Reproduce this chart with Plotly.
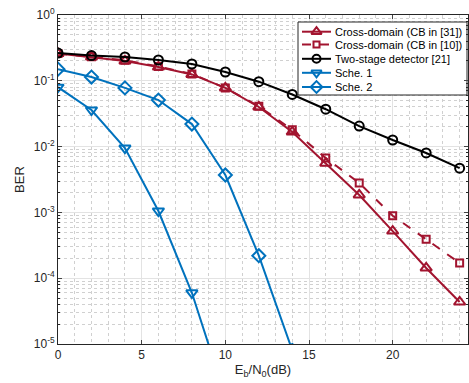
import plotly.graph_objects as go

snr = [0, 2, 4, 6, 8, 10, 12, 14, 16, 18, 20, 22, 24]

cross31 = [0.26, 0.23, 0.20, 0.162, 0.125, 0.078, 0.040, 0.0167, 0.0056, 0.00184, 0.00052, 0.000143, 0.0000435]
cross10 = [0.26, 0.232, 0.205, 0.165, 0.127, 0.078, 0.041, 0.018, 0.0067, 0.0028, 0.00089, 0.00039, 0.00017]
twostage = [0.264, 0.242, 0.23, 0.207, 0.18, 0.136, 0.097, 0.062, 0.037, 0.0205, 0.0126, 0.0080, 0.0047]
sche1_x = [0, 2, 4, 6, 8, 10]
sche1 = [0.08, 0.036, 0.0095, 0.00105, 0.00006, 0.0000016]
sche2_x = [0, 2, 4, 6, 8, 10, 12, 14]
sche2 = [0.15, 0.114, 0.078, 0.051, 0.022, 0.0037, 0.00022, 0.000008]

names = ["Cross-domain (CB in [31])", "Cross-domain (CB in [10])",
         "Two-stage detector [21]", "Sche. 1", "Sche. 2"]

RED = "#A2142F"
BLUE = "#0072BD"
BLACK = "#000000"

styles = [
    dict(color=RED, dash="solid", symbol="triangle-up-open", size=10),
    dict(color=RED, dash="dash", symbol="square-open", size=7),
    dict(color=BLACK, dash="solid", symbol="circle-open", size=9),
    dict(color=BLUE, dash="solid", symbol="triangle-down-open", size=10),
    dict(color=BLUE, dash="solid", symbol="diamond-open", size=10),
]
series = [(snr, cross31), (snr, cross10), (snr, twostage), (sche1_x, sche1), (sche2_x, sche2)]

fig = go.Figure()
for (xs, ys), st, nm in zip(series, styles, names):
    fig.add_trace(go.Scatter(
        x=xs, y=ys, name=nm, mode="lines+markers", showlegend=False,
        line=dict(color=st["color"], width=2, dash=st["dash"]),
        marker=dict(symbol=st["symbol"], size=st["size"], color=st["color"],
                    line=dict(width=2, color=st["color"]))))

# ---- compact legend drawn on a helper overlay axis (0..1 over the plot area) ----
L, R, T, B = 58, 468, 15, 344
def px_x(p):
    return (p - L) / (R - L)
def px_y(p):
    return (B - p) / (B - T)

box_l, box_r, box_t, box_b = 298, 467, 22, 95
row_y = [31.7, 44.5, 58.8, 72.8, 87.0]
fig.add_trace(go.Scatter(
    x=[px_x(box_l), px_x(box_r), px_x(box_r), px_x(box_l), px_x(box_l)],
    y=[px_y(box_t), px_y(box_t), px_y(box_b), px_y(box_b), px_y(box_t)],
    mode="lines", fill="toself", fillcolor="white",
    line=dict(color="#262626", width=1), xaxis="x2", yaxis="y2",
    showlegend=False, hoverinfo="skip"))
for st, nm, ry in zip(styles, names, row_y):
    fig.add_trace(go.Scatter(
        x=[px_x(302), px_x(331)], y=[px_y(ry)] * 2, mode="lines",
        line=dict(color=st["color"], width=2, dash=st["dash"]),
        xaxis="x2", yaxis="y2", showlegend=False, hoverinfo="skip"))
    fig.add_trace(go.Scatter(
        x=[px_x(316.5)], y=[px_y(ry)], mode="markers",
        marker=dict(symbol=st["symbol"], size=st["size"] - 1, color=st["color"],
                    line=dict(width=2, color=st["color"])),
        xaxis="x2", yaxis="y2", showlegend=False, hoverinfo="skip"))
    fig.add_annotation(x=px_x(333), y=px_y(ry), xref="x2", yref="y2", text=nm,
                       showarrow=False, xanchor="left", yanchor="middle",
                       font=dict(size=11, color="#000000"))

AX = "#262626"
GRID = "#E3E3E3"

yvals = [1e-5, 1e-4, 1e-3, 1e-2, 1e-1, 1]
ytext = ["10<sup>-5</sup>", "10<sup>-4</sup>", "10<sup>-3</sup>", "10<sup>-2</sup>", "10<sup>-1</sup>", "10<sup>0</sup>"]

fig.update_layout(
    width=469, height=383,
    margin=dict(l=L, r=469 - R, t=T, b=383 - B),
    paper_bgcolor="white", plot_bgcolor="white",
    font=dict(family="Liberation Sans, Arial, sans-serif", size=12, color=AX),
    showlegend=False,
    xaxis=dict(range=[0, 24.5], tickvals=[0, 5, 10, 15, 20], ticks="inside", ticklen=4,
               showline=True, linecolor=AX, linewidth=1, mirror="ticks", automargin=False,
               showgrid=True, gridcolor=GRID, gridwidth=1, zeroline=False,
               minor=dict(dtick=1, showgrid=True, gridcolor="#D0D0D0", griddash="dot", ticks=""),
               title=dict(text="E<sub>b</sub>/N<sub>0</sub>(dB)", standoff=3, font=dict(size=13))),
    yaxis=dict(type="log", range=[-5, 0], tickvals=yvals, ticktext=ytext, ticks="inside", ticklen=4,
               showline=True, linecolor=AX, linewidth=1, mirror="ticks", automargin=False,
               showgrid=True, gridcolor=GRID, gridwidth=1, zeroline=False,
               minor=dict(dtick="D1", showgrid=True, gridcolor="#D0D0D0", griddash="dot",
                          ticks="inside", ticklen=2, tickcolor=AX),
               title=dict(text="BER", standoff=6, font=dict(size=13))),
    xaxis2=dict(overlaying="x", range=[0, 1], visible=False, fixedrange=True),
    yaxis2=dict(overlaying="y", range=[0, 1], visible=False, fixedrange=True),
)

fig.write_html("out.html", config={"displayModeBar": False},
               post_script="document.body.style.margin='0';document.body.style.padding='0';document.body.style.overflow='hidden';")
